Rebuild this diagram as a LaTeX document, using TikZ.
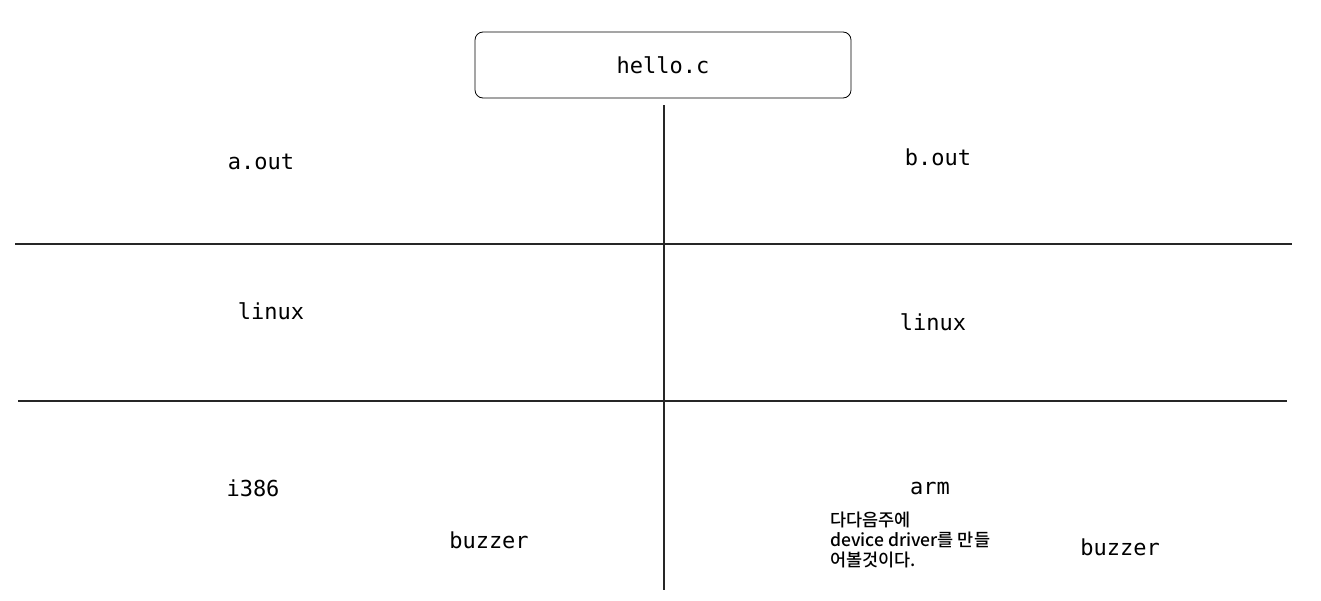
\documentclass[tikz,border=0pt]{standalone}
\usepackage{fontspec}
\setmonofont{DejaVu Sans Mono}
\newfontfamily\kofont{Noto Sans CJK KR Medium}
\begin{document}
\begin{tikzpicture}[x=1pt,y=-1pt,
  lbl/.style={font=\fontsize{22}{26}\selectfont\ttfamily, inner sep=0pt},
  rule/.style={line width=1.2pt, black!85},
  kor/.style={font=\fontsize{17.5}{20}\selectfont\kofont, align=left, inner sep=0pt, anchor=north west}]
\useasboundingbox[fill=white] (0,0) rectangle (1321,600);
\node[draw, rounded corners=8pt, line width=0.8pt, minimum width=376pt, minimum height=66pt, lbl] (hello) at (663,65) {hello.c};
\coordinate (vtop) at (664,105);
\coordinate (vbot) at (664,590);
\coordinate (h1l) at (15,244);
\coordinate (h1r) at (1292,244);
\coordinate (h2l) at (18,401);
\coordinate (h2r) at (1287,401);
\draw[rule] (vtop) -- (vbot);
\draw[rule] (h1l) -- (h1r);
\draw[rule] (h2l) -- (h2r);
\node[lbl] (aout) at (261,162) {a.out};
\node[lbl] (bout) at (938,157) {b.out};
\node[lbl] (linuxl) at (271,311) {linux};
\node[lbl] (linuxr) at (933,322) {linux};
\node[lbl] (i386) at (253,488) {i386};
\node[lbl] (arm) at (930,488) {arm};
\node[lbl] (buzl) at (489,540) {buzzer};
\node[lbl] (buzr) at (1120,547) {buzzer};
\node[kor] (note) at (830,512) {다다음주에\\device driver를 만들\\어볼것이다.};
\end{tikzpicture}
\end{document}
